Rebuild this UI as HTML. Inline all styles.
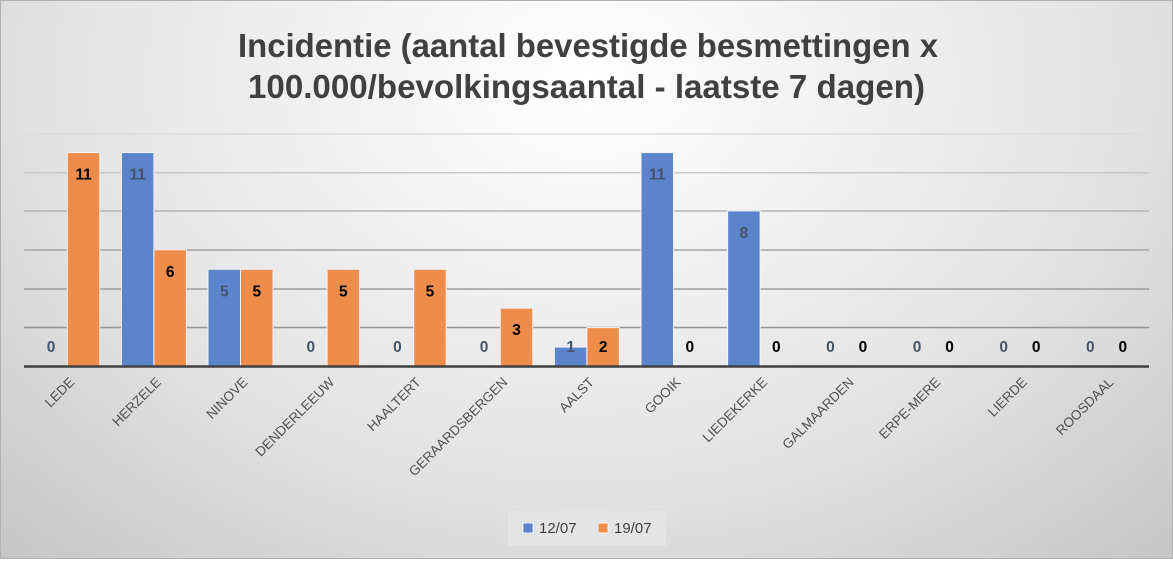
<!DOCTYPE html>
<html><head><meta charset="utf-8"><style>
html,body{margin:0;padding:0;}
body{width:1173px;height:559px;overflow:hidden;}
</style></head><body>
<svg width="1173" height="559" xmlns="http://www.w3.org/2000/svg" font-family="'Liberation Sans', sans-serif">
<defs>
<radialGradient id="bg" cx="0.5" cy="0.15" r="0.75" gradientTransform="matrix(1,0,0,1.6,0,-0.1)">
<stop offset="0" stop-color="#ffffff"/>
<stop offset="0.6" stop-color="#e3e3e3"/>
<stop offset="1" stop-color="#c4c4c4"/>
</radialGradient>
</defs>
<rect x="0" y="0" width="1173" height="559" fill="url(#bg)"/>
<rect x="0.5" y="0.5" width="1172" height="558" fill="none" stroke="#b0b0b0"/>
<text x="238" y="57" textLength="700" lengthAdjust="spacingAndGlyphs" font-size="33" font-weight="bold" fill="#404040">Incidentie (aantal bevestigde besmettingen x</text>
<text x="248" y="98" textLength="677" lengthAdjust="spacingAndGlyphs" font-size="33" font-weight="bold" fill="#404040">100.000/bevolkingsaantal - laatste 7 dagen)</text>
<g stroke-width="1.5">
<line x1="24" x2="1149" y1="134" y2="134" stroke="#dcdcdc"/>
<line x1="24" x2="1149" y1="172.7" y2="172.7" stroke="#c8c8c8"/>
<line x1="24" x2="1149" y1="211" y2="211" stroke="#b4b4b4"/>
<line x1="24" x2="1149" y1="250" y2="250" stroke="#a4a4a4"/>
<line x1="24" x2="1149" y1="289" y2="289" stroke="#9c9c9c"/>
<line x1="24" x2="1149" y1="327.5" y2="327.5" stroke="#949494"/>
</g>
<g id="bars"></g>
<line x1="24" x2="1149" y1="366.5" y2="366.5" stroke="#404040" stroke-width="2.5"/>
<g id="labels"></g>
<rect x="508" y="511" width="158" height="35" fill="#e4e4e4"/>
<rect x="523" y="523" width="10" height="10" fill="#5b84cc" stroke="#fff" stroke-width="0.8"/>
<text x="539" y="533" font-size="15" fill="#404040">12/07</text>
<rect x="598" y="523" width="10" height="10" fill="#ee8c4c" stroke="#fff" stroke-width="0.8"/>
<text x="614" y="533" font-size="15" fill="#404040">19/07</text>
<script>
var names=["LEDE","HERZELE","NINOVE","DENDERLEEUW","HAALTERT","GERAARDSBERGEN","AALST","GOOIK","LIEDEKERKE","GALMAARDEN","ERPE-MERE","LIERDE","ROOSDAAL"];
var a=[0,11,5,0,0,0,1,11,8,0,0,0,0];
var b=[11,6,5,5,5,3,2,0,0,0,0,0,0];
var ns="http://www.w3.org/2000/svg";
var bars=document.getElementById("bars"),lab=document.getElementById("labels");
var u=19.45,base=366.5,w=86.6,bw=32.5;
function el(p,t,at,txt){var e=document.createElementNS(ns,t);for(var k in at)e.setAttribute(k,at[k]);if(txt!==undefined)e.textContent=txt;p.appendChild(e);return e;}
for(var i=0;i<13;i++){
 var c=24+w*(i+0.5);
 [[a[i],c-bw,"#5b84cc","#44546a"],[b[i],c,"#ee8c4c","#000"]].forEach(function(s){
  var h=s[0]*u,top=base-h;
  if(s[0]>0)el(bars,"rect",{x:s[1],y:top,width:bw,height:h,fill:s[2],stroke:"#f4f4f4","stroke-width":1});
  var ly=Math.min(top+27,352);
  el(lab,"text",{x:s[1]+bw/2,y:ly,"text-anchor":"middle","font-size":15.5,"font-weight":"bold",fill:s[3]},String(s[0]));
 });
 el(lab,"text",{x:0,y:0,"text-anchor":"end","font-size":13.5,fill:"#505050",transform:"translate("+(c+8)+",383) rotate(-45)"},names[i]);
}
</script>
</svg>
</body></html>
